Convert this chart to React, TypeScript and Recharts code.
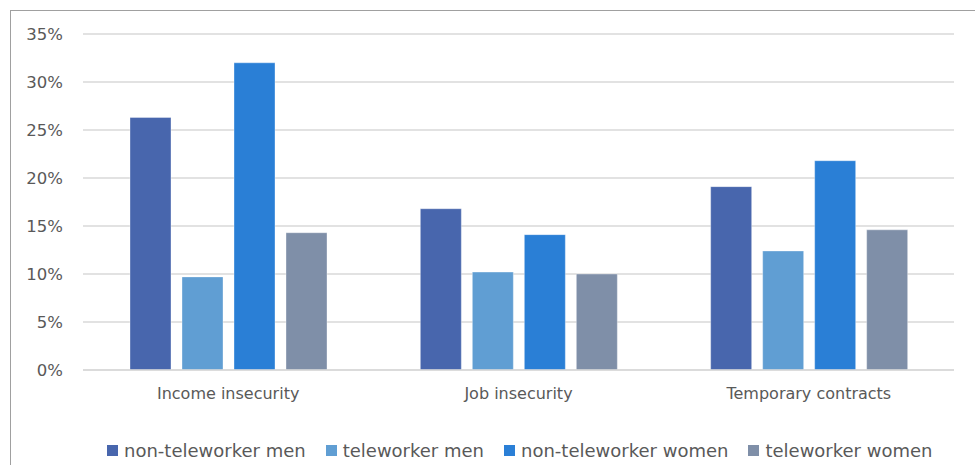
import React from "react";
import {
  BarChart,
  Bar,
  XAxis,
  YAxis,
  CartesianGrid,
  Legend,
} from "recharts";

const categories = ["Income insecurity", "Job insecurity", "Temporary contracts"];
const nonTeleworkerMen = [26.3, 16.8, 19.1];
const teleworkerMen = [9.7, 10.2, 12.4];
const nonTeleworkerWomen = [32.0, 14.1, 21.8];
const teleworkerWomen = [14.3, 10.0, 14.6];
const yTicks = [0, 5, 10, 15, 20, 25, 30, 35];

const series = [
  { key: "ntMen", name: "non-teleworker men", color: "#4866ad" },
  { key: "tMen", name: "teleworker men", color: "#609ed3" },
  { key: "ntWomen", name: "non-teleworker women", color: "#2a7fd6" },
  { key: "tWomen", name: "teleworker women", color: "#7f8fa8" },
];

const data = categories.map((label, i) => ({
  label,
  ntMen: nonTeleworkerMen[i],
  tMen: teleworkerMen[i],
  ntWomen: nonTeleworkerWomen[i],
  tWomen: teleworkerWomen[i],
}));

const FONT = "'DejaVu Sans', sans-serif";
const TEXT = "#595959";

function LegendRow() {
  return (
    <div
      style={{
        display: "flex",
        alignItems: "center",
        paddingLeft: 107,
        fontFamily: FONT,
        fontSize: 18,
        color: TEXT,
        whiteSpace: "nowrap",
      }}
    >
      {series.map((s) => (
        <div
          key={s.key}
          style={{ display: "flex", alignItems: "center", marginRight: 20 }}
        >
          <span
            style={{
              width: 11,
              height: 11,
              background: s.color,
              marginRight: 6,
              display: "inline-block",
            }}
          />
          <span>{s.name}</span>
        </div>
      ))}
    </div>
  );
}

export default function App() {
  return (
    <div
      style={{
        position: "absolute",
        left: 0,
        top: 0,
        width: 975,
        height: 465,
        background: "#fff",
        overflow: "hidden",
      }}
    >
      <div
        style={{
          position: "absolute",
          left: 10,
          top: 10,
          right: -5,
          bottom: -5,
          borderTop: "1px solid #a0a0a0",
          borderLeft: "1px solid #a0a0a0",
        }}
      />
      <div style={{ position: "absolute", left: 0, top: 0 }}>
        <BarChart
          width={975}
          height={465}
          data={data}
          margin={{ top: 34, right: 21, left: 0, bottom: 44 }}
          barSize={41}
          barGap={11}
        >
          <CartesianGrid
            vertical={false}
            stroke="#d9d9d9"
            strokeWidth={1.5}
          />
          <XAxis
            dataKey="label"
            tickLine={false}
            axisLine={{ stroke: "#d9d9d9", strokeWidth: 1.5 }}
            tick={{ fontSize: 16, fill: TEXT, fontFamily: FONT }}
            tickMargin={12}
            height={30}
          />
          <YAxis
            domain={[0, 35]}
            ticks={yTicks}
            tickFormatter={(v) => `${v}%`}
            tickLine={false}
            axisLine={false}
            tick={{ fontSize: 16.5, fill: TEXT, fontFamily: FONT }}
            tickMargin={14}
            width={83}
          />
          <Legend
            verticalAlign="bottom"
            content={() => <LegendRow />}
            wrapperStyle={{ left: 0, top: 440, width: 975, bottom: "auto" }}
          />
          {series.map((s) => (
            <Bar
              key={s.key}
              dataKey={s.key}
              name={s.name}
              fill={s.color}
              stroke="#ffffff"
              strokeOpacity={0.35}
              strokeWidth={1}
              isAnimationActive={false}
            />
          ))}
        </BarChart>
      </div>
    </div>
  );
}
